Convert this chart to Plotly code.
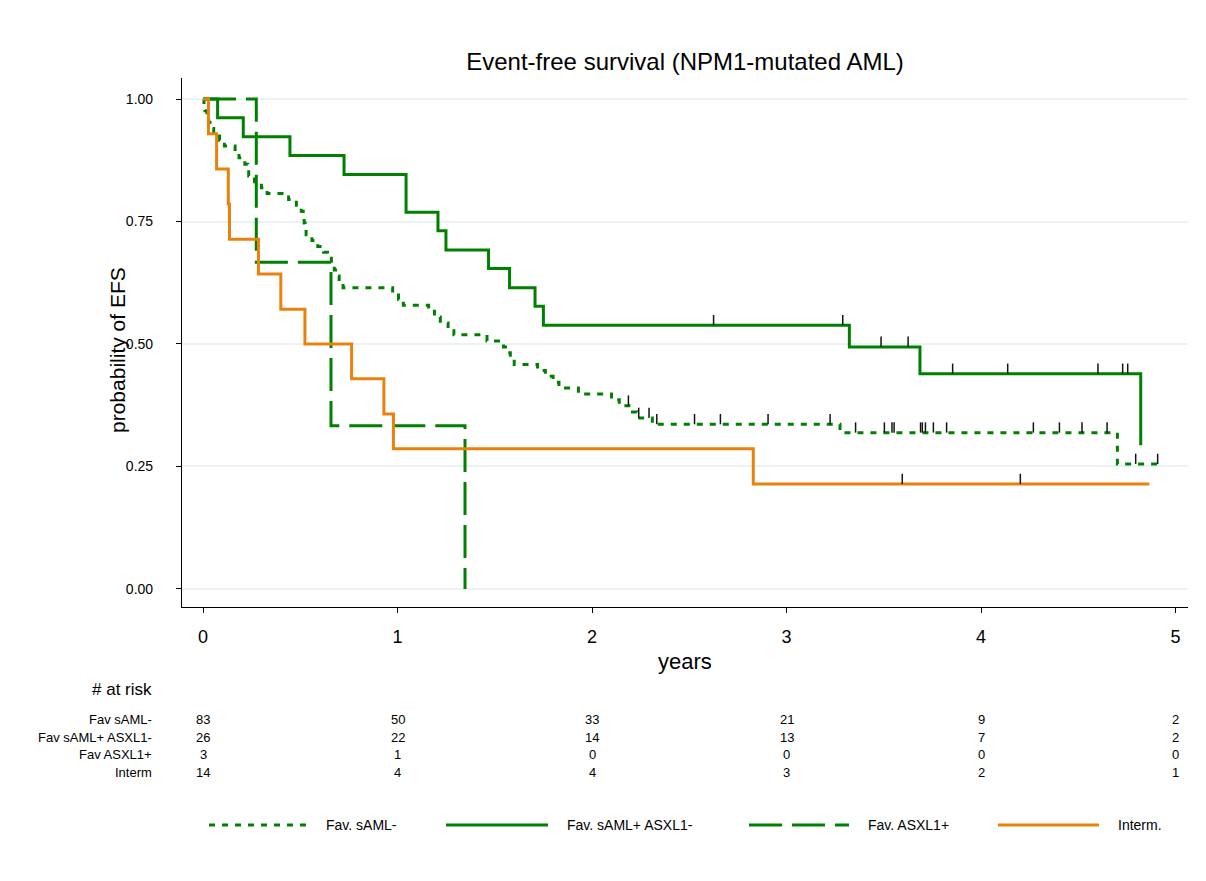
import plotly.graph_objects as go

# ---------------- data ----------------
groups = ["Fav. sAML-", "Fav. sAML+ ASXL1-", "Fav. ASXL1+", "Interm."]
risk_labels = ["Fav sAML-", "Fav sAML+ ASXL1-", "Fav ASXL1+", "Interm"]
risk_times = [0, 1, 2, 3, 4, 5]
risk_sAMLneg = [83, 50, 33, 21, 9, 2]
risk_sAMLpos = [26, 22, 14, 13, 7, 2]
risk_ASXL1 = [3, 1, 0, 0, 0, 0]
risk_interm = [14, 4, 4, 3, 2, 1]

# Fav. sAML- (dotted)
a_t = [0, 0.005, 0.01, 0.02, 0.03, 0.045, 0.055, 0.085, 0.11, 0.165, 0.185, 0.215, 0.23, 0.235,
       0.265, 0.30, 0.33, 0.44, 0.48, 0.505, 0.515, 0.52, 0.525, 0.53, 0.56, 0.59, 0.62, 0.64,
       0.66, 0.675, 0.69, 0.70, 0.72, 0.975, 1.005, 1.03, 1.16, 1.19, 1.22, 1.26, 1.29, 1.46,
       1.545, 1.555, 1.58, 1.60, 1.72, 1.76, 1.80, 1.83, 1.93, 2.10, 2.14, 2.20, 2.23, 2.31,
       3.275, 4.701]
a_s = [1.000, 0.988, 0.976, 0.964, 0.952, 0.940, 0.928, 0.916, 0.904, 0.892, 0.880, 0.867, 0.855,
       0.843, 0.831, 0.819, 0.807, 0.795, 0.783, 0.771, 0.759, 0.747, 0.735, 0.723, 0.711, 0.699,
       0.687, 0.675, 0.663, 0.651, 0.639, 0.627, 0.615, 0.603, 0.591, 0.579, 0.567, 0.555, 0.543,
       0.531, 0.519, 0.506, 0.494, 0.482, 0.470, 0.458, 0.446, 0.434, 0.422, 0.410, 0.398, 0.386,
       0.374, 0.361, 0.349, 0.336, 0.319, 0.255]
a_end = 4.908
a_cens = [2.187, 2.24, 2.293, 2.333, 2.527, 2.66, 2.905, 3.224, 3.355, 3.503, 3.542, 3.553,
          3.689, 3.698, 3.714, 3.755, 3.823, 4.269, 4.403, 4.519, 4.648, 4.795, 4.908]

# Fav. sAML+ ASXL1- (solid)
b_t = [0, 0.075, 0.207, 0.447, 0.725, 1.044, 1.208, 1.249, 1.468, 1.576, 1.707, 1.75, 3.323, 3.686, 4.821]
b_s = [1.0, 0.962, 0.923, 0.885, 0.846, 0.769, 0.731, 0.692, 0.654, 0.615, 0.577, 0.538, 0.494, 0.439, 0.293]
b_end = None
b_cens = [2.625, 3.289, 3.486, 3.625, 3.854, 4.137, 4.601, 4.728, 4.754]

# Fav. ASXL1+ (dashed)
c_t = [0, 0.274, 0.658, 1.347]
c_s = [1.0, 0.667, 0.333, 0.0]
c_end = None
c_cens = []

# Interm. (orange)
d_t = [0, 0.028, 0.070, 0.130, 0.136, 0.285, 0.40, 0.524, 0.764, 0.93, 0.979, 2.829]
d_s = [1.0, 0.929, 0.857, 0.786, 0.714, 0.643, 0.571, 0.500, 0.429, 0.357, 0.286, 0.214]
d_end = 4.865
d_cens = [3.595, 4.202]

y_ticks = [0, 0.25, 0.5, 0.75, 1.0]
y_ticktext = ["0.00", "0.25", "0.50", "0.75", "1.00"]
x_ticks = [0, 1, 2, 3, 4, 5]

# ---------------- style ----------------
GREEN = "rgb(0,128,0)"
ORANGE = "rgb(232,130,12)"
GRID = "rgb(234,242,243)"
FONT = "Liberation Sans, Arial, Helvetica, sans-serif"
DOT = "6px,7px"
DASH = "33px,10px"
W, H = 1206, 881
PL, PR, PT, PB = 182, 1188, 78, 607
TICK_H = 0.021


def pxx(px):
    return (px - PL) / (PR - PL)


def pxy(py):
    return (PB - py) / (PB - PT)


fig = go.Figure()


def level_at(t, s, tc):
    lvl = s[0]
    for ti, si in zip(t, s):
        if ti <= tc:
            lvl = si
    return lvl


def add_curve(t, s, t_end, dash, color, cens):
    x = list(t)
    y = list(s)
    if t_end is not None:
        x.append(t_end)
        y.append(s[-1])
    fig.add_trace(go.Scatter(x=x, y=y, mode="lines",
                             line=dict(shape="hv", color=color, width=3, dash=dash),
                             showlegend=False, hoverinfo="skip"))
    if cens:
        cx, cy = [], []
        for tc in cens:
            lv = level_at(t, s, tc)
            cx += [tc, tc, None]
            cy += [lv, lv + TICK_H, None]
        fig.add_trace(go.Scatter(x=cx, y=cy, mode="lines",
                                 line=dict(color="rgb(20,20,20)", width=1.5),
                                 showlegend=False, hoverinfo="skip"))


add_curve(a_t, a_s, a_end, DOT, GREEN, a_cens)
add_curve(b_t, b_s, b_end, "solid", GREEN, b_cens)
add_curve(c_t, c_s, c_end, DASH, GREEN, c_cens)
add_curve(d_t, d_s, d_end, "solid", ORANGE, d_cens)

annotations = []
# axis titles
annotations.append(dict(text="years", xref="paper", yref="paper", x=pxx(685), y=pxy(662),
                        showarrow=False, font=dict(size=22, color="black", family=FONT),
                        xanchor="center", yanchor="middle"))
annotations.append(dict(text="probability of EFS", xref="paper", yref="paper", x=pxx(117), y=pxy(350),
                        showarrow=False, textangle=-90, font=dict(size=21, color="black", family=FONT),
                        xanchor="center", yanchor="middle"))
# risk table
annotations.append(dict(text="# at risk", xref="paper", yref="paper", x=pxx(154), y=pxy(689),
                        showarrow=False, font=dict(size=17, color="black", family=FONT),
                        xanchor="right", yanchor="middle"))
row_y = [719, 737, 754, 772]
rows = [risk_sAMLneg, risk_sAMLpos, risk_ASXL1, risk_interm]
for lab, vals, ry in zip(risk_labels, rows, row_y):
    annotations.append(dict(text=lab, xref="paper", yref="paper", x=pxx(154), y=pxy(ry),
                            showarrow=False, font=dict(size=13, color="black", family=FONT),
                            xanchor="right", yanchor="middle"))
    for tt, v in zip(risk_times, vals):
        annotations.append(dict(text=str(v), xref="x", yref="paper", x=tt, y=pxy(ry),
                                showarrow=False, font=dict(size=13, color="black", family=FONT),
                                xanchor="center", yanchor="middle"))

# legend (manual)
shapes = []
leg_y = 825
leg_items = [
    (209, 310, 324, DOT, GREEN, groups[0]),
    (446, 548, 565, "solid", GREEN, groups[1]),
    (749, 849, 866, DASH, GREEN, groups[2]),
    (998, 1099, 1116, "solid", ORANGE, groups[3]),
]
for x0, x1, xt, dsh, col, name in leg_items:
    shapes.append(dict(type="line", xref="paper", yref="paper", x0=pxx(x0), x1=pxx(x1),
                       y0=pxy(leg_y), y1=pxy(leg_y), line=dict(color=col, width=3, dash=dsh)))
    annotations.append(dict(text=name, xref="paper", yref="paper", x=pxx(xt), y=pxy(leg_y),
                            showarrow=False, font=dict(size=14, color="black", family=FONT),
                            xanchor="left", yanchor="middle"))

fig.update_layout(
    width=W, height=H,
    margin=dict(l=PL, r=W - PR, t=PT, b=H - PB, pad=0),
    paper_bgcolor="white", plot_bgcolor="white",
    font=dict(family=FONT, color="black"),
    title=dict(text="Event-free survival (NPM1-mutated AML)", x=pxx(685), xref="paper",
               y=1 - 62 / H, yref="container", xanchor="center", yanchor="middle",
               font=dict(size=24, color="black", family=FONT)),
    xaxis=dict(range=[-0.108, 5.064], tickvals=x_ticks, ticks="outside", ticklen=5, tickwidth=1,
               tickcolor="black", showline=True, linecolor="black", linewidth=1.2,
               showgrid=False, zeroline=False, tickfont=dict(size=18, color="black"),
               ticklabelstandoff=8, fixedrange=True),
    yaxis=dict(range=[-0.037, 1.043], tickvals=y_ticks, ticktext=y_ticktext, ticks="outside",
               ticklen=5, tickwidth=1, tickcolor="black", showline=True, linecolor="black",
               linewidth=1.2, showgrid=True, gridcolor=GRID, gridwidth=2, zeroline=False,
               tickfont=dict(size=14, color="black"), ticklabelstandoff=20, fixedrange=True),
    annotations=annotations,
    shapes=shapes,
    showlegend=False,
)

fig.write_html("out.html")
